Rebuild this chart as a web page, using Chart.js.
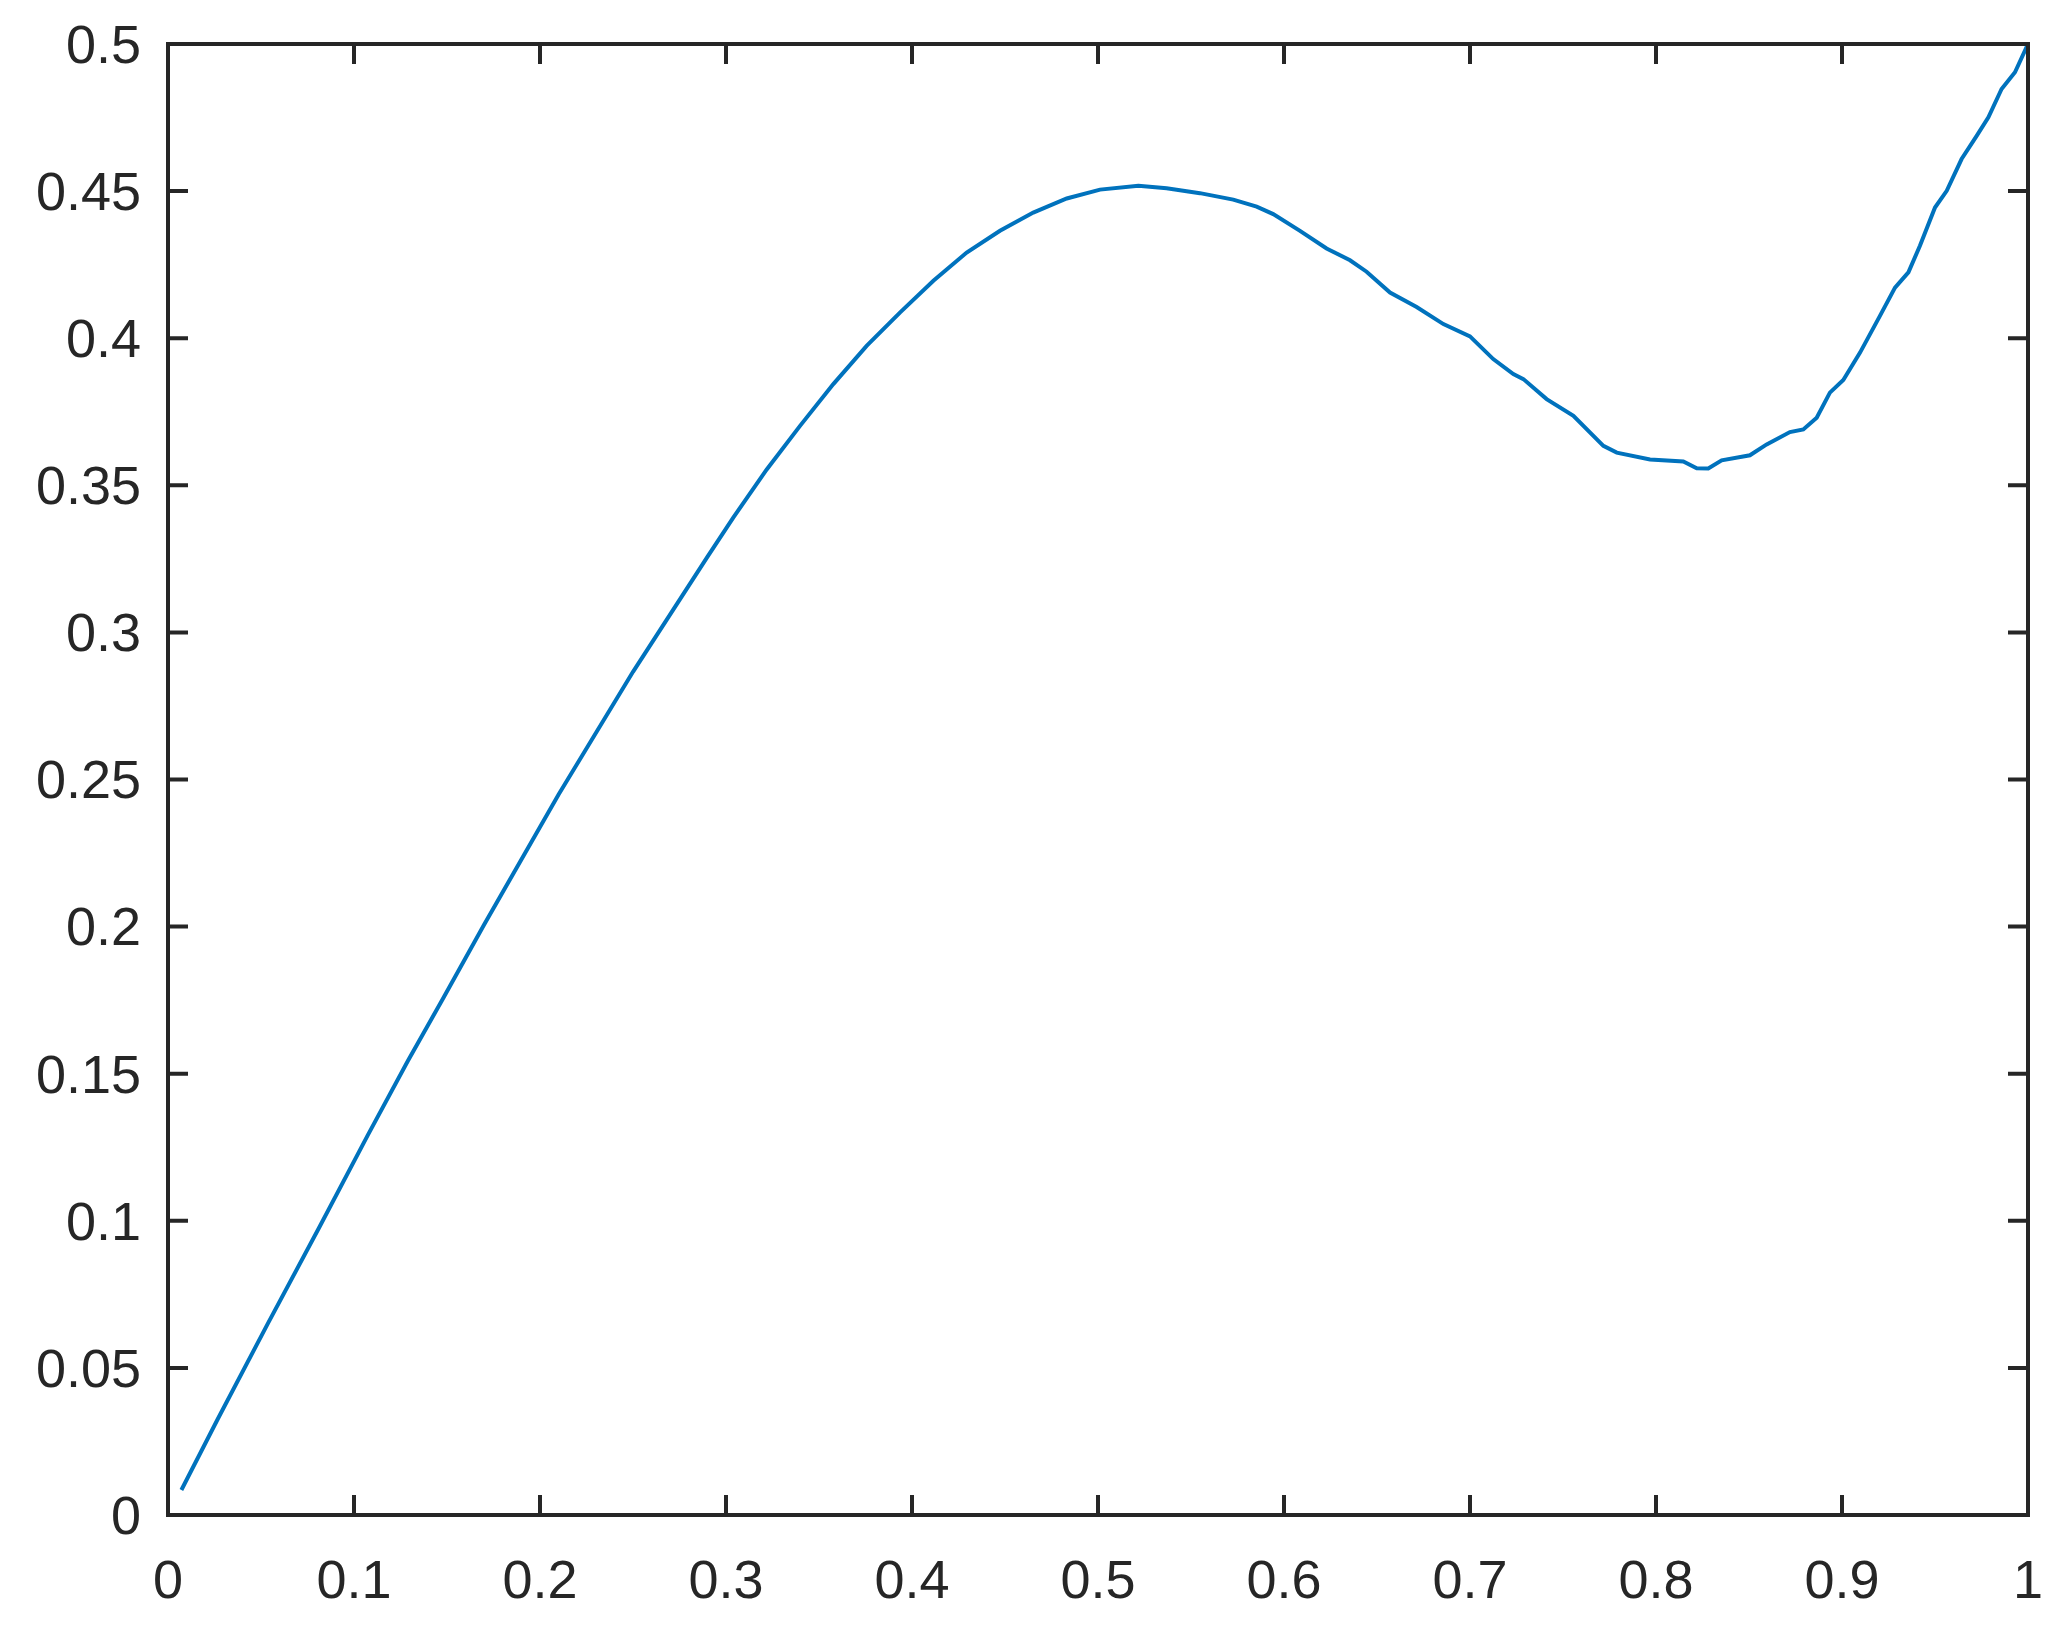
<!DOCTYPE html>
<html>
<head>
<meta charset="utf-8">
<script src="https://cdn.jsdelivr.net/npm/chart.js@4"></script>
<style>
  html, body { margin: 0; padding: 0; background: #ffffff; }
  #wrap { width: 2063px; height: 1628px; }
</style>
</head>
<body>
<div id="wrap"><canvas id="c" width="2063" height="1628"></canvas></div>
<script>
// ---- data ----
const xValues = [
  0.0072, 0.0269, 0.0538, 0.0815, 0.1075, 0.1290, 0.1478, 0.170, 0.210, 0.250,
  0.2900, 0.3039, 0.3219, 0.3398, 0.3577, 0.3756, 0.3935, 0.4115, 0.4294, 0.4473,
  0.4652, 0.4832, 0.5011, 0.5217, 0.5369, 0.5548, 0.5727, 0.5853, 0.5942, 0.6086,
  0.6229, 0.6355, 0.6444, 0.6570, 0.6713, 0.6857, 0.7000, 0.7125, 0.7233, 0.7287,
  0.7412, 0.7556, 0.7717, 0.7789, 0.7968, 0.8147, 0.8219, 0.8281, 0.8353, 0.8505,
  0.8595, 0.8720, 0.8792, 0.8864, 0.8935, 0.9007, 0.9097, 0.9204, 0.9285, 0.9357,
  0.9419, 0.9500, 0.9563, 0.9643, 0.9724, 0.9787, 0.9858, 0.9930, 1.0000
];
const yValues = [
  0.0085, 0.0328, 0.0652, 0.0980, 0.1292, 0.1544, 0.1755, 0.2007, 0.2449, 0.2866,
  0.3257, 0.3390, 0.3554, 0.3702, 0.3844, 0.3974, 0.4087, 0.4195, 0.4291, 0.4365,
  0.4427, 0.4475, 0.4505, 0.4518, 0.4510, 0.4493, 0.4471, 0.4447, 0.4422, 0.4365,
  0.4305, 0.4265, 0.4226, 0.4155, 0.4106, 0.4048, 0.4006, 0.3929, 0.3878, 0.3861,
  0.3793, 0.3736, 0.3634, 0.3611, 0.3588, 0.3581, 0.3558, 0.3557, 0.3585, 0.3602,
  0.3639, 0.3681, 0.3690, 0.3730, 0.3815, 0.3858, 0.3951, 0.4076, 0.4172, 0.4224,
  0.4314, 0.4444, 0.4501, 0.4609, 0.4688, 0.4751, 0.4847, 0.4904, 0.5000
];
const xTickValues = [0, 0.1, 0.2, 0.3, 0.4, 0.5, 0.6, 0.7, 0.8, 0.9, 1];
const xTickLabels = ["0", "0.1", "0.2", "0.3", "0.4", "0.5", "0.6", "0.7", "0.8", "0.9", "1"];
const yTickValues = [0, 0.05, 0.1, 0.15, 0.2, 0.25, 0.3, 0.35, 0.4, 0.45, 0.5];
const yTickLabels = ["0", "0.05", "0.1", "0.15", "0.2", "0.25", "0.3", "0.35", "0.4", "0.45", "0.5"];

// ---- styling ----
const AXIS_COLOR = '#262626';
const LINE_COLOR = '#0072BD';
const FONT = { family: '"Liberation Sans", Arial, Helvetica, sans-serif', size: 54 };

const points = xValues.map((x, i) => ({ x: x, y: yValues[i] }));

function zeroPad(s) {
  s.paddingLeft = 0; s.paddingRight = 0; s.paddingTop = 0; s.paddingBottom = 0;
}

const framePlugin = {
  id: 'matlabFrame',
  afterDatasetsDraw(chart) {
    const ctx = chart.ctx;
    const a = chart.chartArea;
    const xs = chart.scales.x, ys = chart.scales.y;
    const tl = 20;
    ctx.save();
    ctx.strokeStyle = AXIS_COLOR;
    ctx.lineWidth = 4;
    ctx.lineCap = 'butt';
    ctx.beginPath();
    xTickValues.forEach(v => {
      const px = xs.getPixelForValue(v);
      ctx.moveTo(px, a.bottom); ctx.lineTo(px, a.bottom - tl);
      ctx.moveTo(px, a.top); ctx.lineTo(px, a.top + tl);
    });
    yTickValues.forEach(v => {
      const py = ys.getPixelForValue(v);
      ctx.moveTo(a.left, py); ctx.lineTo(a.left + tl, py);
      ctx.moveTo(a.right, py); ctx.lineTo(a.right - tl, py);
    });
    ctx.stroke();
    ctx.lineJoin = 'miter';
    ctx.strokeRect(a.left, a.top, a.right - a.left, a.bottom - a.top);
    ctx.restore();
  }
};

new Chart(document.getElementById('c'), {
  type: 'line',
  data: {
    datasets: [{
      data: points,
      borderColor: LINE_COLOR,
      borderWidth: 4,
      pointRadius: 0,
      tension: 0,
      fill: false
    }]
  },
  options: {
    responsive: false,
    devicePixelRatio: 1,
    animation: false,
    layout: { padding: { top: 44, right: 35, left: 0, bottom: 0 } },
    plugins: { legend: { display: false }, tooltip: { enabled: false } },
    scales: {
      x: {
        type: 'linear',
        min: 0, max: 1,
        grid: { display: false, drawTicks: false },
        border: { display: false },
        afterBuildTicks: s => { s.ticks = xTickValues.map(v => ({ value: v })); },
        afterFit: s => { s.height = 113; zeroPad(s); },
        ticks: {
          color: AXIS_COLOR,
          font: FONT,
          padding: 36,
          maxRotation: 0,
          autoSkip: false,
          callback: (v) => xTickLabels[xTickValues.indexOf(v)]
        }
      },
      y: {
        type: 'linear',
        min: 0, max: 0.5,
        grid: { display: false, drawTicks: false },
        border: { display: false },
        afterBuildTicks: s => { s.ticks = yTickValues.map(v => ({ value: v })); },
        afterFit: s => { s.width = 168; zeroPad(s); },
        ticks: {
          color: AXIS_COLOR,
          font: FONT,
          padding: 27,
          labelOffset: 4,
          autoSkip: false,
          callback: (v) => yTickLabels[yTickValues.indexOf(v)]
        }
      }
    }
  },
  plugins: [framePlugin]
});
</script>
</body>
</html>
